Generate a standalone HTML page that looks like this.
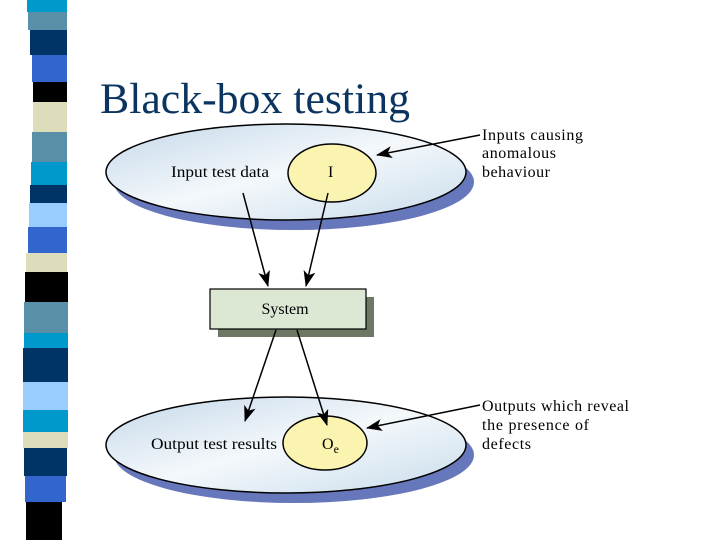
<!DOCTYPE html>
<html><head><style>
body{margin:0;width:720px;height:540px;background:#fff;overflow:hidden;position:relative;font-family:"Liberation Serif",serif}
</style></head><body>
<svg width="720" height="540" style="position:absolute;left:0;top:0">
<defs>
<linearGradient id="g" x1="0" y1="0" x2="1" y2="1">
<stop offset="0" stop-color="#c4d8ea"/><stop offset="0.5" stop-color="#f4f8fb"/><stop offset="1" stop-color="#c8dcec"/>
</linearGradient>
<marker id="a" markerWidth="16" markerHeight="12" refX="15" refY="6" orient="auto" markerUnits="userSpaceOnUse">
<path d="M0,0 L16,6 L0,12 L4,6 Z" fill="#000"/></marker>
</defs>
<g>
<rect x="27" y="0" width="40" height="12" fill="#0099cc"/>
<rect x="28" y="12" width="39" height="18" fill="#5a8fa8"/>
<rect x="30" y="30" width="37" height="25" fill="#003366"/>
<rect x="32" y="55" width="35" height="27" fill="#3366cc"/>
<rect x="33" y="82" width="34" height="20" fill="#000"/>
<rect x="33" y="102" width="34" height="30" fill="#ddddbb"/>
<rect x="32" y="132" width="35" height="30" fill="#5a8fa8"/>
<rect x="31" y="162" width="36" height="23" fill="#0099cc"/>
<rect x="30" y="185" width="37" height="18" fill="#003366"/>
<rect x="29" y="203" width="38" height="24" fill="#99ccff"/>
<rect x="28" y="227" width="39" height="26" fill="#3366cc"/>
<rect x="26" y="253" width="41" height="19" fill="#ddddbb"/>
<rect x="25" y="272" width="43" height="30" fill="#000"/>
<rect x="24" y="302" width="44" height="31" fill="#5a8fa8"/>
<rect x="24" y="333" width="44" height="15" fill="#0099cc"/>
<rect x="23" y="348" width="45" height="34" fill="#003366"/>
<rect x="23" y="382" width="45" height="28" fill="#99ccff"/>
<rect x="23" y="410" width="45" height="22" fill="#0099cc"/>
<rect x="23" y="432" width="45" height="16" fill="#ddddbb"/>
<rect x="24" y="448" width="43" height="28" fill="#003366"/>
<rect x="25" y="476" width="41" height="26" fill="#3366cc"/>
<rect x="26" y="502" width="36" height="38" fill="#000"/>
</g>
<text x="100" y="113" font-family="Liberation Serif" font-size="43" fill="#0b3560" textLength="310" lengthAdjust="spacingAndGlyphs">Black-box testing</text>

<ellipse cx="294" cy="182" rx="180" ry="48" fill="#6677bb"/>
<ellipse cx="286" cy="172" rx="180" ry="48" fill="url(#g)" stroke="#000" stroke-width="1.5"/>
<ellipse cx="332" cy="173" rx="44" ry="29" fill="#fbf3b0" stroke="#000" stroke-width="1.5"/>
<text x="171" y="177" font-size="16" textLength="98" lengthAdjust="spacingAndGlyphs">Input test data</text>
<text x="328" y="177" font-size="16">I</text>

<rect x="218" y="297" width="156" height="40" fill="#6e7764"/>
<rect x="210" y="289" width="156" height="40" fill="#dde8d4" stroke="#000" stroke-width="1.2"/>
<text x="285" y="314" font-size="16" text-anchor="middle">System</text>

<ellipse cx="294" cy="455" rx="180" ry="48" fill="#6677bb"/>
<ellipse cx="286" cy="445" rx="180" ry="48" fill="url(#g)" stroke="#000" stroke-width="1.5"/>
<ellipse cx="325" cy="443" rx="42" ry="27" fill="#fbf3b0" stroke="#000" stroke-width="1.5"/>
<text x="151" y="449" font-size="16" textLength="126" lengthAdjust="spacingAndGlyphs">Output test results</text>
<text x="322" y="449" font-size="16">O<tspan font-size="12" dy="4">e</tspan></text>

<g stroke="#000" stroke-width="1.5" fill="none">
<line x1="243" y1="193" x2="268" y2="286" marker-end="url(#a)"/>
<line x1="328" y1="193" x2="306" y2="286" marker-end="url(#a)"/>
<line x1="276" y1="330" x2="245" y2="421" marker-end="url(#a)"/>
<line x1="297" y1="330" x2="327" y2="425" marker-end="url(#a)"/>
<line x1="480" y1="135" x2="377" y2="155" marker-end="url(#a)"/>
<line x1="480" y1="405" x2="367" y2="428" marker-end="url(#a)"/>
</g>
<g font-size="16" lengthAdjust="spacingAndGlyphs">
<text x="482" y="140" textLength="101">Inputs causing</text>
<text x="482" y="158" textLength="74">anomalous</text>
<text x="482" y="177" textLength="68">behaviour</text>
<text x="482" y="411" textLength="147">Outputs which reveal</text>
<text x="482" y="430" textLength="107">the presence of</text>
<text x="482" y="449" textLength="49">defects</text>
</g>
</svg>
</body></html>
